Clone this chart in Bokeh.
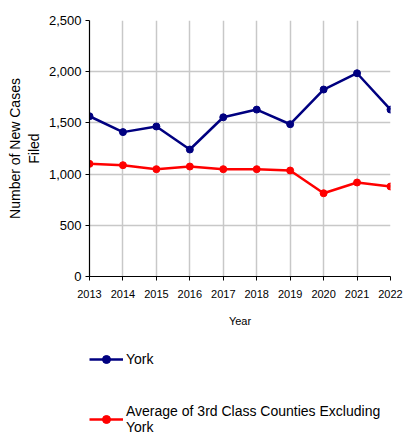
from bokeh.plotting import figure
from bokeh.layouts import column
from bokeh.models import FixedTicker, NumeralTickFormatter, Legend, LegendItem, Range1d
from bokeh.embed import file_html
from bokeh.resources import INLINE

years = [2013, 2014, 2015, 2016, 2017, 2018, 2019, 2020, 2021, 2022]
york = [1565, 1410, 1465, 1240, 1555, 1630, 1487, 1826, 1985, 1630]
avg_3rd = [1100, 1087, 1048, 1074, 1048, 1048, 1035, 813, 918, 879]
y_ticks = [0, 500, 1000, 1500, 2000, 2500]
series_names = ["York", "Average of 3rd Class Counties Excluding\nYork"]
series_colors = ["#000080", "#ff0000"]

p = figure(frame_width=301, frame_height=256, output_backend="svg", toolbar_location=None,
           x_range=Range1d(2013, 2022), y_range=Range1d(0, 2500),
           min_border_left=89, min_border_right=22, min_border_top=20, min_border_bottom=59)
p.outline_line_color = None
p.background_fill_color = "white"
p.border_fill_color = "white"

p.grid.grid_line_color = "#c8c8c8"
p.grid.grid_line_width = 1.5
p.xaxis.ticker = FixedTicker(ticks=years)
p.yaxis.ticker = FixedTicker(ticks=y_ticks)
p.yaxis.formatter = NumeralTickFormatter(format="0,0")
p.xgrid.ticker = FixedTicker(ticks=years)
p.ygrid.ticker = FixedTicker(ticks=y_ticks)

for ax in (p.xaxis, p.yaxis):
    ax.axis_line_color = "black"
    ax.axis_line_width = 1.2
    ax.major_tick_line_color = "black"
    ax.major_tick_out = 4
    ax.major_tick_in = 0
    ax.minor_tick_line_color = None
    ax.major_label_text_font = "Liberation Sans"
    ax.major_label_text_color = "black"
    ax.axis_label_text_font = "Liberation Sans"
    ax.axis_label_text_font_style = "normal"
    ax.axis_label_text_color = "black"

p.yaxis.major_label_text_font_size = "13px"
p.yaxis.major_label_standoff = 4
p.xaxis.major_label_text_font_size = "11px"
p.xaxis.major_label_standoff = 9
p.yaxis.axis_label = "Number of New Cases\nFiled"
p.yaxis.axis_label_text_font_size = "14px"
p.yaxis.axis_label_standoff = 4
p.xaxis.axis_label = "Year"
p.xaxis.axis_label_text_font_size = "11px"
p.xaxis.axis_label_standoff = 14

for vals, col in zip([york, avg_3rd], series_colors):
    p.line(years, vals, line_color=col, line_width=2.5)
    p.scatter(years, vals, size=7, fill_color=col, line_color=col)

# legend panel (series drawn out of its view; only the legend shows)
lp = figure(width=412, height=100, output_backend="svg", toolbar_location=None,
            x_axis_type=None, y_axis_type=None,
            x_range=Range1d(2013, 2022), y_range=Range1d(-2, -1), min_border=0)
lp.outline_line_color = None
lp.grid.visible = False
items = []
for name, vals, col in zip(series_names, [york, avg_3rd], series_colors):
    rl = lp.line(years, vals, line_color=col, line_width=2.5)
    rs = lp.scatter(years, vals, size=7, fill_color=col, line_color=col)
    items.append(LegendItem(label=name, renderers=[rl, rs]))

legend = Legend(items=items, orientation="vertical", location=(0, 0))
legend.label_text_font = "Liberation Sans"
legend.label_text_font_size = "14px"
legend.label_text_color = "black"
legend.border_line_color = None
legend.background_fill_alpha = 0
legend.glyph_width = 34
legend.label_standoff = 3
legend.spacing = 34
legend.margin = 0
legend.padding = 0
legend.label_height = 18
legend.label_text_line_height = 1.05
lp.add_layout(legend, "center")

open("out.html", "w").write(file_html(column(p, lp, spacing=0), INLINE))
